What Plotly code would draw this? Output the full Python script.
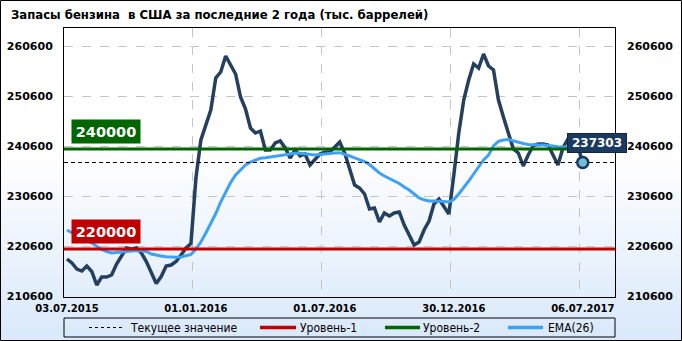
import plotly.graph_objects as go

# ---------------- data ----------------
title_text = "Запасы бензина  в США за последние 2 года (тыс. баррелей)"
tick_labels = ["03.07.2015", "01.01.2016", "01.07.2016", "30.12.2016", "06.07.2017"]
tick_weeks = [0, 26, 52, 78, 104]
y_ticks = [210600, 220600, 230600, 240600, 250600, 260600]

stocks = [
    218000, 217200, 216000, 215600, 216600, 215500, 212800, 214400, 214400, 214800,
    217000, 218700, 220200, 220000, 220200, 219200, 217500, 215300, 213100, 214500,
    216600, 216800, 217500, 218800, 220200, 221100, 234200, 241800, 244800, 247800,
    254200, 255400, 258600, 256800, 255000, 250400, 248000, 244200, 243200, 243600,
    239800, 239800, 241200, 241600, 240200, 238200, 239800, 238600, 239000, 236800,
    238000, 239000, 239400, 239400, 240400, 241400, 239200, 235800, 232800, 232200,
    231000, 228000, 228200, 225400, 227200, 226600, 227200, 227400, 224800, 222800,
    220800, 221400, 223800, 225600, 229000, 230000, 228400, 227000, 234800, 243200,
    249800, 253800, 257000, 256200, 259000, 256600, 255800, 249800, 246400, 243400,
    240000, 239200, 236600, 238800, 240600, 241000, 241000, 240800, 238800, 236800,
    240200, 242000, 241500, 240500, 237303,
]
ema26 = [
    223800, 223200, 222700, 222200, 221800, 221200, 220500, 219900, 219500, 219200,
    219300, 219400, 219500, 219660, 219700, 219660, 219500, 219000, 218740, 218600,
    218440, 218360, 218340, 218400, 218600, 218900, 220000, 221400, 223200, 225000,
    227100, 229400, 231400, 233300, 234800, 235900, 236800, 237400, 237800, 238140,
    238260, 238400, 238540, 238740, 238940, 239100, 239140, 239140, 239040, 238940,
    238800, 238900, 239040, 239140, 239200, 239260, 239000, 238600, 238240, 237900,
    237500, 236900, 236000, 235200, 234600, 234100, 233600, 233100, 232400, 231800,
    231000, 230200, 229840, 229600, 229600, 229600, 229500, 229400, 229900, 231000,
    232200, 233600, 235000, 236300, 237800, 238800, 240600, 241540, 241800, 241900,
    241600, 241300, 241100, 240900, 240800, 240800, 240800, 240740, 240600, 240460,
    240460, 240400, 240400, 240400, 240300,
]
level1 = 220000
level2 = 240000
current_value = stocks[-1]
weeks = list(range(len(stocks)))

legend_names = ["Текущее значение", "Уровень-1", "Уровень-2", "EMA(26)"]

# ---------------- styles / geometry ----------------
W, H = 682, 341
PL, PR, PT, PB = 64, 615, 28, 297          # plot box in pixels
X_RANGE = [-0.6, 110.5]
Y_RANGE = [210400, 264200]

C_STOCK = "#253f5f"
C_EMA = "#3fa1f4"
C_RED = "#c00000"
C_GREEN = "#006400"
C_GRID = "#c4c4c4"
FONT = "DejaVu Sans"


def pxx(p):
    return (p - PL) / (PR - PL)


def pxy(p):
    return (PB - p) / (PB - PT)


fig = go.Figure()

fig.add_trace(go.Scatter(x=weeks, y=stocks, mode="lines", name="stocks",
                         line=dict(color=C_STOCK, width=3.5), showlegend=False))
fig.add_trace(go.Scatter(x=weeks, y=ema26, mode="lines", name=legend_names[3],
                         line=dict(color=C_EMA, width=3), showlegend=False))
fig.add_trace(go.Scatter(x=X_RANGE, y=[current_value] * 2, mode="lines", name=legend_names[0],
                         line=dict(color="black", width=1, dash="4px,3px"), showlegend=False))
fig.add_trace(go.Scatter(x=X_RANGE, y=[level1] * 2, mode="lines", name=legend_names[1],
                         line=dict(color=C_RED, width=3), showlegend=False))
fig.add_trace(go.Scatter(x=X_RANGE, y=[level2] * 2, mode="lines", name=legend_names[2],
                         line=dict(color=C_GREEN, width=3), showlegend=False))
fig.add_trace(go.Scatter(x=[weeks[-1]], y=[current_value], mode="markers", yaxis="y2",
                         marker=dict(size=11, color="#72bcd6", line=dict(color="#17355e", width=2.5)),
                         showlegend=False))

shapes = []
# background gradient
n = 40
g0, g1 = 150, H
for k in range(n):
    t = k / (n - 1)
    r = int(255 + (218 - 255) * t)
    g = int(255 + (233 - 255) * t)
    b = int(255 + (251 - 255) * t)
    ya = g0 + (g1 - g0) * k / n
    yb = g0 + (g1 - g0) * (k + 1) / n + 0.6
    shapes.append(dict(type="rect", xref="paper", yref="paper", layer="below",
                       x0=pxx(0), x1=pxx(W), y0=pxy(yb), y1=pxy(ya),
                       line=dict(width=0), fillcolor=f"rgb({r},{g},{b})"))
# outer border
shapes.append(dict(type="rect", xref="paper", yref="paper", layer="above",
                   x0=pxx(0.5), x1=pxx(W - 0.5), y0=pxy(H - 0.5), y1=pxy(0.5),
                   line=dict(color="black", width=1), fillcolor="rgba(0,0,0,0)"))
# legend box
LY0, LY1 = 318, 337
LYC = (LY0 + LY1) / 2
shapes.append(dict(type="rect", xref="paper", yref="paper", layer="above",
                   x0=pxx(PL), x1=pxx(PR), y0=pxy(LY1), y1=pxy(LY0),
                   line=dict(color="black", width=1), fillcolor="rgba(0,0,0,0)"))
leg_samples = [(89, 122, "black", 1, "3px,3px"), (260, 296, C_RED, 3.5, "solid"),
               (385, 420, C_GREEN, 3.5, "solid"), (508, 543, C_EMA, 3.5, "solid")]
for x0, x1, c, w, d in leg_samples:
    shapes.append(dict(type="line", xref="paper", yref="paper", layer="above",
                       x0=pxx(x0), x1=pxx(x1), y0=pxy(LYC), y1=pxy(LYC),
                       line=dict(color=c, width=w, dash=d)))

annotations = []
annotations.append(dict(text=title_text, xref="paper", yref="paper", x=pxx(9), y=pxy(14),
                        xanchor="left", yanchor="middle", showarrow=False,
                        font=dict(family="DejaVu Sans Condensed, DejaVu Sans", size=13,
                                  color="black", weight="bold")))
for name, xs in zip(legend_names, [128, 298, 421, 546]):
    annotations.append(dict(text=name, xref="paper", yref="paper", x=pxx(xs), y=pxy(LYC),
                            xanchor="left", yanchor="middle", showarrow=False,
                            font=dict(family="DejaVu Sans Condensed, DejaVu Sans", size=12, color="black")))
for lvl, col in [(level2, "#006600"), (level1, C_RED)]:
    annotations.append(dict(text=str(lvl), xref="paper", yref="y", x=pxx(71), y=lvl,
                            xanchor="left", yanchor="bottom", yshift=5, showarrow=False,
                            bgcolor=col, borderpad=2, width=64, height=19,
                            font=dict(family=FONT, size=14.5, color="white", weight="bold")))
annotations.append(dict(text=str(current_value), xref="x", yref="y", x=weeks[-1], y=current_value,
                        xanchor="left", yanchor="bottom", xshift=-16, yshift=9, showarrow=False,
                        bgcolor="#1b3a60", bordercolor="#0f2645", borderwidth=1, borderpad=2,
                        width=54, height=14,
                        font=dict(family=FONT, size=12, color="white", weight="bold")))

axis_common = dict(showline=True, linecolor="black", linewidth=1, zeroline=False, automargin=False)
fig.update_layout(
    width=W, height=H,
    margin=dict(l=PL, r=W - PR, t=PT, b=H - PB, pad=0, autoexpand=False),
    paper_bgcolor="white", plot_bgcolor="rgba(0,0,0,0)",
    showlegend=False,
    xaxis=dict(range=X_RANGE, tickmode="array", tickvals=tick_weeks, ticktext=tick_labels,
               showgrid=False, mirror=True, ticks="", ticklabelstandoff=2,
               tickfont=dict(family=FONT, size=10, color="black", weight="bold"),
               minor=dict(tickvals=[w - 0.6 for w in tick_weeks[1:]], showgrid=True,
                          gridcolor=C_GRID, griddash="dash", gridwidth=1, ticks=""),
               **axis_common),
    yaxis=dict(range=Y_RANGE, tickmode="array", tickvals=y_ticks, tickformat="d", mirror=True,
               showgrid=True, gridcolor=C_GRID, griddash="dash", gridwidth=1,
               ticks="", ticklabelstandoff=8,
               tickfont=dict(family=FONT, size=11, color="black", weight="bold"),
               **axis_common),
    yaxis2=dict(range=Y_RANGE, tickmode="array", tickvals=y_ticks, tickformat="d",
                overlaying="y", side="right", automargin=False,
                showgrid=False, ticks="", ticklabelstandoff=11, showline=False, zeroline=False,
                tickfont=dict(family=FONT, size=11, color="black", weight="bold")),
    shapes=shapes,
    annotations=annotations,
)

fig.write_html("out.html")
